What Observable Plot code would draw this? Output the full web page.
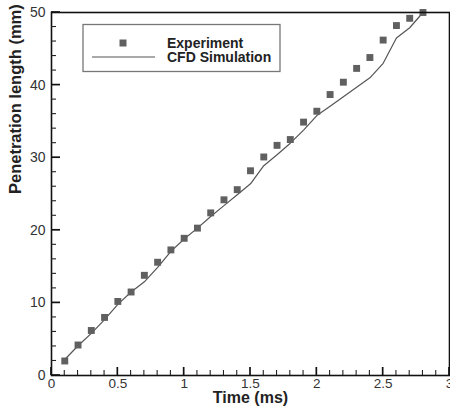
<!DOCTYPE html>
<html>
<head>
<meta charset="utf-8">
<script src="https://cdn.jsdelivr.net/npm/d3@7"></script>
<script src="https://cdn.jsdelivr.net/npm/@observablehq/plot@0.6"></script>
<style>
  html, body { margin: 0; padding: 0; background: #fff; }
  svg { overflow: visible; }
</style>
</head>
<body>
<div id="chart"></div>
<script>
// Experiment data (time in ms, penetration length in mm)
const expTime = [0.1,0.2,0.3,0.4,0.5,0.6,0.7,0.8,0.9,1.0,1.1,1.2,1.3,1.4,1.5,1.6,1.7,1.8,1.9,2.0,2.1,2.2,2.3,2.4,2.5,2.6,2.7,2.8];
const expLength = [2.0,4.2,6.2,8.0,10.2,11.5,13.8,15.6,17.3,18.9,20.3,22.4,24.2,25.6,28.2,30.1,31.7,32.5,34.9,36.4,38.7,40.4,42.3,43.8,46.2,48.2,49.2,50.0];

// CFD simulation
const cfdTime = [0.1,0.2,0.3,0.4,0.5,0.6,0.7,0.8,0.9,1.0,1.1,1.2,1.3,1.4,1.5,1.6,1.7,1.8,1.9,2.0,2.1,2.2,2.3,2.4,2.5,2.6,2.7,2.8];
const cfdLength = [2.2,4.1,5.8,7.7,9.8,11.5,12.9,14.9,17.1,18.8,20.3,21.9,23.4,24.9,26.4,28.9,30.4,32.0,33.8,35.8,37.1,38.4,39.7,41.0,43.0,46.5,47.9,50.0];

const xTicks = [0,0.5,1,1.5,2,2.5,3];
const xTickLabels = ["0","0.5","1","1.5","2","2.5","3"];
const xMinor = d3.range(0, 31).map(i => i / 10).filter(v => Math.round(v * 10) % 5 !== 0);
const yTicks = [0,10,20,30,40,50];
const yMinor = d3.range(0, 51, 2).filter(v => v % 10 !== 0);

const exp = expTime.map((t, i) => ({t, v: expLength[i]}));
const cfd = cfdTime.map((t, i) => ({t, v: cfdLength[i]}));

const font = "Liberation Sans, Arial, sans-serif";

const chart = Plot.plot({
  width: 450,
  height: 411,
  marginLeft: 51,
  marginRight: 1,
  marginTop: 12,
  marginBottom: 36,
  style: {fontFamily: font, background: "#fff"},
  x: {domain: [0, 3]},
  y: {domain: [0, 50]},
  marks: [
    Plot.axisX({ticks: xTicks, tickFormat: (d, i) => xTickLabels[i], tickSize: 0, tickPadding: 3, fontSize: 13.5, fill: "#333", label: null}),
    Plot.axisY({ticks: yTicks, tickSize: 0, tickPadding: 6, fontSize: 14, fill: "#333", label: null}),
    Plot.line(cfd, {x: "t", y: "v", stroke: "#555", strokeWidth: 1.2}),
    Plot.dot(exp, {x: "t", y: "v", symbol: "square", r: 3.9, fill: "#606060", stroke: "none"}),
    Plot.frame({stroke: "#111", strokeWidth: 1.6}),
    Plot.text(["Time (ms)"], {frameAnchor: "bottom", dy: 27, fontSize: 16, fontWeight: "bold", fill: "#222", fontFamily: font}),
    Plot.text(["Penetration length (mm)"], {frameAnchor: "left", dx: -36, rotate: -90, fontSize: 16.5, fontWeight: "bold", fill: "#222", fontFamily: font})
  ]
});

document.getElementById("chart").appendChild(chart);

const svg = d3.select(chart);
const xs = chart.scale("x"), ys = chart.scale("y");
const x0 = xs.apply(0), y0 = ys.apply(0);

// inward ticks, positioned through the chart's own scales
const tg = svg.append("g").attr("stroke-linecap", "butt").attr("fill", "none");
tg.selectAll("line.xmaj").data(xTicks).join("line").attr("class", "xmaj")
  .attr("x1", d => xs.apply(d)).attr("x2", d => xs.apply(d))
  .attr("y1", y0).attr("y2", y0 - 8).attr("stroke", "#111").attr("stroke-width", 1.7);
tg.selectAll("line.xmin").data(xMinor).join("line").attr("class", "xmin")
  .attr("x1", d => xs.apply(d)).attr("x2", d => xs.apply(d))
  .attr("y1", y0).attr("y2", y0 - 5).attr("stroke", "#222").attr("stroke-width", 1.1);
tg.selectAll("line.ymaj").data(yTicks).join("line").attr("class", "ymaj")
  .attr("y1", d => ys.apply(d)).attr("y2", d => ys.apply(d))
  .attr("x1", x0).attr("x2", x0 + 9).attr("stroke", "#111").attr("stroke-width", 1.7);
tg.selectAll("line.ymin").data(yMinor).join("line").attr("class", "ymin")
  .attr("y1", d => ys.apply(d)).attr("y2", d => ys.apply(d))
  .attr("x1", x0).attr("x2", x0 + 5).attr("stroke", "#222").attr("stroke-width", 1.1);

// Legend
const lg = svg.append("g").attr("font-family", font).attr("text-anchor", "start");
lg.append("rect").attr("x", 83).attr("y", 24.5).attr("width", 197).attr("height", 47)
  .attr("fill", "#fff").attr("stroke", "#777").attr("stroke-width", 1.3);
lg.append("rect").attr("x", 123 - 3.5).attr("y", 43 - 3.5).attr("width", 7).attr("height", 7).attr("fill", "#606060");
lg.append("line").attr("x1", 92).attr("x2", 155).attr("y1", 57).attr("y2", 57).attr("stroke", "#555").attr("stroke-width", 1.2);
lg.append("text").attr("x", 167).attr("y", 43).attr("dy", "0.35em").attr("font-size", 14).attr("font-weight", "bold").attr("fill", "#222").attr("text-anchor", "start").text("Experiment");
lg.append("text").attr("x", 167).attr("y", 57.5).attr("dy", "0.35em").attr("font-size", 14).attr("font-weight", "bold").attr("fill", "#222").attr("text-anchor", "start").text("CFD Simulation");
</script>
</body>
</html>
